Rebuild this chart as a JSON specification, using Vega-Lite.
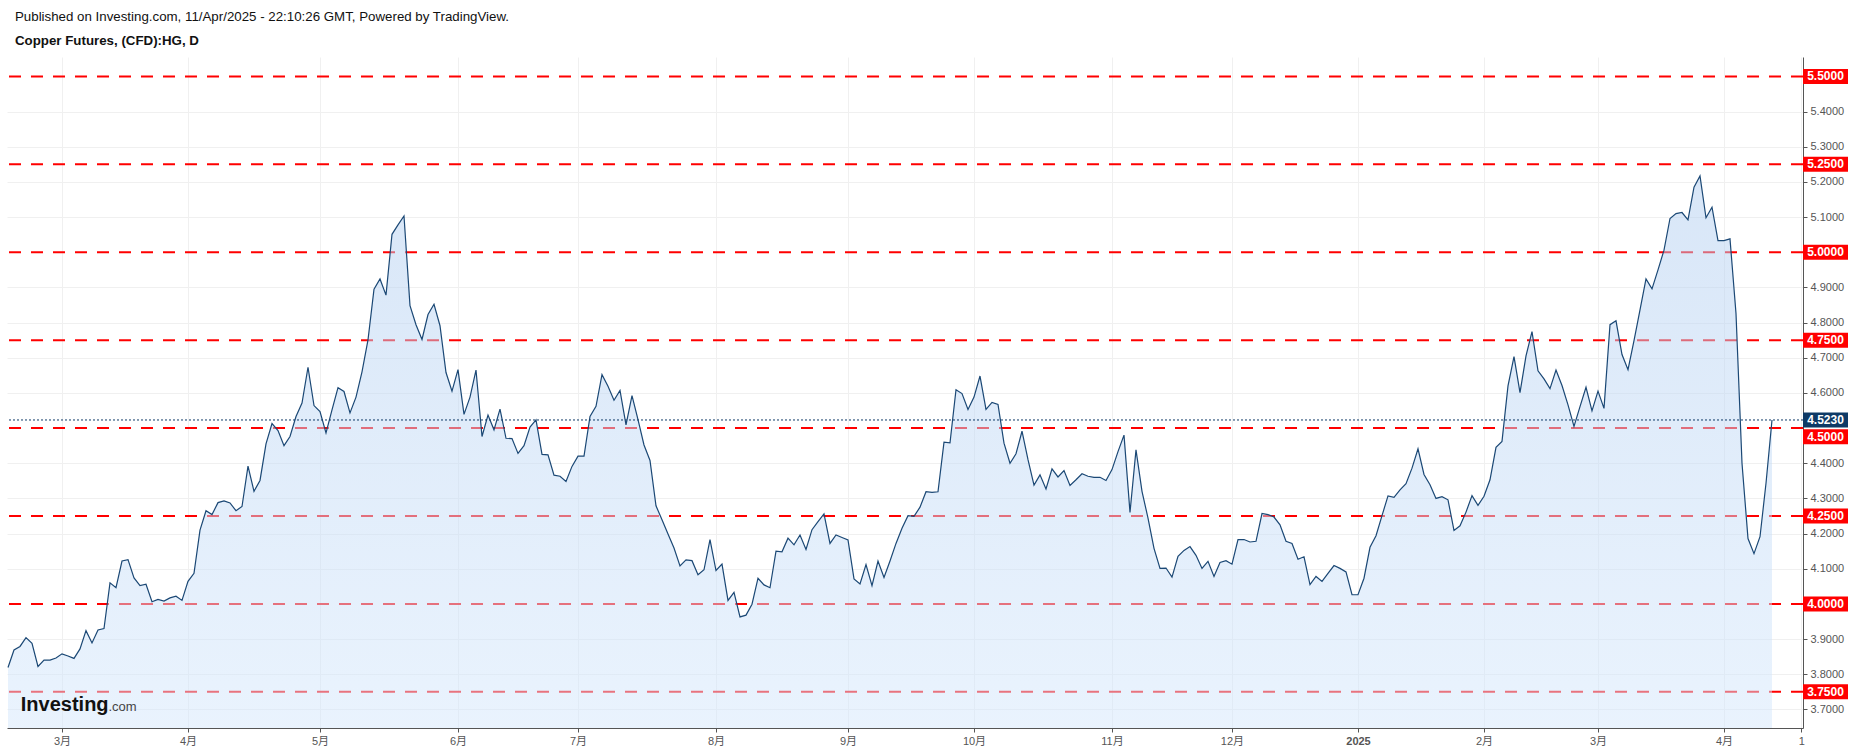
{
  "$schema": "https://vega.github.io/schema/vega-lite/v6.json",
  "width": 1796,
  "height": 671,
  "autosize": {"type": "none"},
  "padding": {"left": 7, "top": 57, "right": 52, "bottom": 25},
  "background": "white",
  "config": {
    "view": {"stroke": null},
    "font": "Liberation Sans, Arial, Noto Sans CJK SC, sans-serif"
  },
  "title": {
    "text": "Published on Investing.com, 11/Apr/2025 - 22:10:26 GMT, Powered by TradingView.",
    "subtitle": "Copper Futures, (CFD):HG, D",
    "anchor": "start",
    "frame": "group",
    "dx": 8,
    "offset": 10,
    "font": "Liberation Sans, Arial, sans-serif",
    "fontSize": 13.3,
    "fontWeight": "normal",
    "color": "#111111",
    "subtitleFont": "Liberation Sans, Arial, sans-serif",
    "subtitleFontSize": 13.3,
    "subtitleFontWeight": "bold",
    "subtitleColor": "#111111",
    "subtitlePadding": 10
  },
  "datasets": {
    "price": [
      {"i":0,"v":3.819},{"i":1,"v":3.869},{"i":2,"v":3.879},{"i":3,"v":3.904},{"i":4,"v":3.888},{"i":5,"v":3.822},{"i":6,"v":3.840},{"i":7,"v":3.840},{"i":8,"v":3.846},{"i":9,"v":3.858},
      {"i":10,"v":3.852},{"i":11,"v":3.845},{"i":12,"v":3.872},{"i":13,"v":3.924},{"i":14,"v":3.889},{"i":15,"v":3.926},{"i":16,"v":3.930},{"i":17,"v":4.060},{"i":18,"v":4.046},{"i":19,"v":4.122},
      {"i":20,"v":4.126},{"i":21,"v":4.074},{"i":22,"v":4.052},{"i":23,"v":4.056},{"i":24,"v":4.006},{"i":25,"v":4.013},{"i":26,"v":4.008},{"i":27,"v":4.017},{"i":28,"v":4.022},{"i":29,"v":4.010},
      {"i":30,"v":4.064},{"i":31,"v":4.087},{"i":32,"v":4.210},{"i":33,"v":4.265},{"i":34,"v":4.254},{"i":35,"v":4.288},{"i":36,"v":4.293},{"i":37,"v":4.287},{"i":38,"v":4.265},{"i":39,"v":4.277},
      {"i":40,"v":4.392},{"i":41,"v":4.320},{"i":42,"v":4.351},{"i":43,"v":4.455},{"i":44,"v":4.513},{"i":45,"v":4.493},{"i":46,"v":4.450},{"i":47,"v":4.476},{"i":48,"v":4.533},{"i":49,"v":4.571},
      {"i":50,"v":4.673},{"i":51,"v":4.564},{"i":52,"v":4.547},{"i":53,"v":4.486},{"i":54,"v":4.552},{"i":55,"v":4.615},{"i":56,"v":4.604},{"i":57,"v":4.543},{"i":58,"v":4.588},{"i":59,"v":4.660},
      {"i":60,"v":4.751},{"i":61,"v":4.895},{"i":62,"v":4.924},{"i":63,"v":4.878},{"i":64,"v":5.051},{"i":65,"v":5.078},{"i":66,"v":5.103},{"i":67,"v":4.848},{"i":68,"v":4.794},{"i":69,"v":4.752},
      {"i":70,"v":4.823},{"i":71,"v":4.852},{"i":72,"v":4.791},{"i":73,"v":4.658},{"i":74,"v":4.605},{"i":75,"v":4.666},{"i":76,"v":4.539},{"i":77,"v":4.588},{"i":78,"v":4.665},{"i":79,"v":4.476},
      {"i":80,"v":4.537},{"i":81,"v":4.495},{"i":82,"v":4.554},{"i":83,"v":4.471},{"i":84,"v":4.470},{"i":85,"v":4.428},{"i":86,"v":4.450},{"i":87,"v":4.503},{"i":88,"v":4.523},{"i":89,"v":4.425},
      {"i":90,"v":4.424},{"i":91,"v":4.366},{"i":92,"v":4.363},{"i":93,"v":4.348},{"i":94,"v":4.391},{"i":95,"v":4.420},{"i":96,"v":4.420},{"i":97,"v":4.533},{"i":98,"v":4.562},{"i":99,"v":4.652},
      {"i":100,"v":4.619},{"i":101,"v":4.579},{"i":102,"v":4.607},{"i":103,"v":4.509},{"i":104,"v":4.592},{"i":105,"v":4.524},{"i":106,"v":4.452},{"i":107,"v":4.408},{"i":108,"v":4.279},{"i":109,"v":4.239},
      {"i":110,"v":4.199},{"i":111,"v":4.159},{"i":112,"v":4.108},{"i":113,"v":4.125},{"i":114,"v":4.123},{"i":115,"v":4.083},{"i":116,"v":4.097},{"i":117,"v":4.183},{"i":118,"v":4.095},{"i":119,"v":4.113},
      {"i":120,"v":4.010},{"i":121,"v":4.033},{"i":122,"v":3.963},{"i":123,"v":3.968},{"i":124,"v":3.999},{"i":125,"v":4.073},{"i":126,"v":4.054},{"i":127,"v":4.046},{"i":128,"v":4.150},{"i":129,"v":4.148},
      {"i":130,"v":4.187},{"i":131,"v":4.168},{"i":132,"v":4.196},{"i":133,"v":4.155},{"i":134,"v":4.211},{"i":135,"v":4.234},{"i":136,"v":4.256},{"i":137,"v":4.172},{"i":138,"v":4.196},{"i":139,"v":4.189},
      {"i":140,"v":4.182},{"i":141,"v":4.071},{"i":142,"v":4.057},{"i":143,"v":4.112},{"i":144,"v":4.052},{"i":145,"v":4.122},{"i":146,"v":4.075},{"i":147,"v":4.122},{"i":148,"v":4.172},{"i":149,"v":4.215},
      {"i":150,"v":4.251},{"i":151,"v":4.249},{"i":152,"v":4.275},{"i":153,"v":4.319},{"i":154,"v":4.317},{"i":155,"v":4.319},{"i":156,"v":4.460},{"i":157,"v":4.458},{"i":158,"v":4.609},{"i":159,"v":4.598},
      {"i":160,"v":4.553},{"i":161,"v":4.588},{"i":162,"v":4.648},{"i":163,"v":4.553},{"i":164,"v":4.573},{"i":165,"v":4.567},{"i":166,"v":4.457},{"i":167,"v":4.400},{"i":168,"v":4.427},{"i":169,"v":4.491},
      {"i":170,"v":4.410},{"i":171,"v":4.338},{"i":172,"v":4.367},{"i":173,"v":4.327},{"i":174,"v":4.384},{"i":175,"v":4.361},{"i":176,"v":4.379},{"i":177,"v":4.337},{"i":178,"v":4.353},{"i":179,"v":4.370},
      {"i":180,"v":4.363},{"i":181,"v":4.360},{"i":182,"v":4.360},{"i":183,"v":4.351},{"i":184,"v":4.382},{"i":185,"v":4.433},{"i":186,"v":4.480},{"i":187,"v":4.260},{"i":188,"v":4.438},{"i":189,"v":4.320},
      {"i":190,"v":4.244},{"i":191,"v":4.158},{"i":192,"v":4.101},{"i":193,"v":4.102},{"i":194,"v":4.076},{"i":195,"v":4.135},{"i":196,"v":4.152},{"i":197,"v":4.163},{"i":198,"v":4.138},{"i":199,"v":4.101},
      {"i":200,"v":4.121},{"i":201,"v":4.078},{"i":202,"v":4.118},{"i":203,"v":4.123},{"i":204,"v":4.113},{"i":205,"v":4.183},{"i":206,"v":4.183},{"i":207,"v":4.176},{"i":208,"v":4.178},{"i":209,"v":4.257},
      {"i":210,"v":4.254},{"i":211,"v":4.247},{"i":212,"v":4.225},{"i":213,"v":4.178},{"i":214,"v":4.172},{"i":215,"v":4.127},{"i":216,"v":4.134},{"i":217,"v":4.055},{"i":218,"v":4.078},{"i":219,"v":4.064},
      {"i":220,"v":4.087},{"i":221,"v":4.109},{"i":222,"v":4.101},{"i":223,"v":4.091},{"i":224,"v":4.026},{"i":225,"v":4.026},{"i":226,"v":4.073},{"i":227,"v":4.161},{"i":228,"v":4.194},{"i":229,"v":4.251},
      {"i":230,"v":4.307},{"i":231,"v":4.303},{"i":232,"v":4.324},{"i":233,"v":4.342},{"i":234,"v":4.386},{"i":235,"v":4.441},{"i":236,"v":4.368},{"i":237,"v":4.339},{"i":238,"v":4.300},{"i":239,"v":4.305},
      {"i":240,"v":4.296},{"i":241,"v":4.209},{"i":242,"v":4.222},{"i":243,"v":4.261},{"i":244,"v":4.308},{"i":245,"v":4.280},{"i":246,"v":4.306},{"i":247,"v":4.353},{"i":248,"v":4.445},{"i":249,"v":4.462},
      {"i":250,"v":4.620},{"i":251,"v":4.703},{"i":252,"v":4.601},{"i":253,"v":4.705},{"i":254,"v":4.774},{"i":255,"v":4.663},{"i":256,"v":4.640},{"i":257,"v":4.612},{"i":258,"v":4.665},{"i":259,"v":4.621},
      {"i":260,"v":4.566},{"i":261,"v":4.505},{"i":262,"v":4.561},{"i":263,"v":4.616},{"i":264,"v":4.549},{"i":265,"v":4.605},{"i":266,"v":4.556},{"i":267,"v":4.794},{"i":268,"v":4.805},{"i":269,"v":4.709},
      {"i":270,"v":4.666},{"i":271,"v":4.749},{"i":272,"v":4.836},{"i":273,"v":4.924},{"i":274,"v":4.896},{"i":275,"v":4.950},{"i":276,"v":5.006},{"i":277,"v":5.096},{"i":278,"v":5.110},{"i":279,"v":5.113},
      {"i":280,"v":5.092},{"i":281,"v":5.185},{"i":282,"v":5.217},{"i":283,"v":5.098},{"i":284,"v":5.128},{"i":285,"v":5.033},{"i":286,"v":5.033},{"i":287,"v":5.038},{"i":288,"v":4.826},{"i":289,"v":4.400},
      {"i":290,"v":4.186},{"i":291,"v":4.143},{"i":292,"v":4.191},{"i":293,"v":4.343},{"i":294,"v":4.523}
    ],
    "levels": [
      {"level":5.5,"label":"5.5000"},
      {"level":5.25,"label":"5.2500"},
      {"level":5.0,"label":"5.0000"},
      {"level":4.75,"label":"4.7500"},
      {"level":4.5,"label":"4.5000"},
      {"level":4.25,"label":"4.2500"},
      {"level":4.0,"label":"4.0000"},
      {"level":3.75,"label":"3.7500"}
    ],
    "brand": [
      {"name":"Investing","suffix":".com"}
    ]
  },
  "layer": [
    {
      "data": {"name": "price"},
      "mark": {"type": "point", "opacity": 0},
      "encoding": {
        "x": {
          "field": "i", "type": "quantitative", "title": null,
          "scale": {"domain": [-0.1667, 299.1667], "nice": false, "zero": false},
          "axis": {
            "orient": "bottom",
            "values": [9, 30, 52, 75, 95, 118, 140, 161, 184, 204, 225, 246, 265, 286, 298.9],
            "labelExpr": "datum.value==9?'3月':datum.value==30?'4月':datum.value==52?'5月':datum.value==75?'6月':datum.value==95?'7月':datum.value==118?'8月':datum.value==140?'9月':datum.value==161?'10月':datum.value==184?'11月':datum.value==204?'12月':datum.value==225?'2025':datum.value==246?'2月':datum.value==265?'3月':datum.value==286?'4月':'1'",
            "labelFontWeight": {"condition": {"test": "datum.value==225", "value": "bold"}, "value": "normal"},
            "grid": true, "gridColor": "#f0f0f0", "gridWidth": 1,
            "domainColor": "#555555", "domainWidth": 1,
            "tickColor": "#555555", "tickSize": 4,
            "labelColor": "#555555", "labelFontSize": 11, "labelPadding": 3,
            "labelFont": "Liberation Sans, Noto Sans CJK SC, sans-serif",
            "labelFlush": false, "labelOverlap": false, "labelBound": false
          }
        },
        "y": {
          "field": "v", "type": "quantitative", "title": null,
          "scale": {"domain": [3.6471, 5.5552], "nice": false, "zero": false},
          "axis": {
            "orient": "right",
            "values": [3.7, 3.8, 3.9, 4.1, 4.2, 4.3, 4.4, 4.6, 4.7, 4.8, 4.9, 5.1, 5.2, 5.3, 5.4],
            "format": ".4f",
            "grid": true, "gridColor": "#f0f0f0", "gridWidth": 1,
            "domainColor": "#555555", "domainWidth": 1,
            "tickColor": "#555555", "tickSize": 4,
            "labelColor": "#555555", "labelFontSize": 11, "labelPadding": 3,
            "labelFont": "Liberation Sans, sans-serif",
            "labelFlush": false, "labelOverlap": false, "labelBound": false
          }
        }
      }
    },
    {
      "data": {"name": "levels"},
      "mark": {"type": "rule", "color": "#ff0000", "strokeWidth": 2, "strokeDash": [12, 10]},
      "encoding": {
        "y": {"field": "level", "type": "quantitative", "title": null,
              "scale": {"domain": [3.6471, 5.5552], "nice": false, "zero": false}}
      }
    },
    {
      "data": {"name": "price"},
      "mark": {
        "type": "area",
        "fill": {
          "gradient": "linear", "x1": 0, "y1": 0, "x2": 0, "y2": 1,
          "stops": [
            {"offset": 0, "color": "rgba(178,206,240,0.5)"},
            {"offset": 1, "color": "rgba(212,231,252,0.5)"}
          ]
        }
      },
      "encoding": {
        "x": {"field": "i", "type": "quantitative", "title": null,
              "scale": {"domain": [-0.1667, 299.1667], "nice": false, "zero": false}},
        "y": {"field": "v", "type": "quantitative", "title": null,
              "scale": {"domain": [3.6471, 5.5552], "nice": false, "zero": false}},
        "y2": {"datum": 3.6471}
      }
    },
    {
      "data": {"name": "price"},
      "mark": {"type": "line", "color": "#1b4875", "strokeWidth": 1.2},
      "encoding": {
        "x": {"field": "i", "type": "quantitative", "title": null,
              "scale": {"domain": [-0.1667, 299.1667], "nice": false, "zero": false}},
        "y": {"field": "v", "type": "quantitative", "title": null,
              "scale": {"domain": [3.6471, 5.5552], "nice": false, "zero": false}}
      }
    },
    {
      "data": {"name": "price"},
      "transform": [{"filter": "datum.i == 294"}],
      "mark": {"type": "rule", "color": "#0e3a66", "strokeWidth": 1, "strokeDash": [2, 2]},
      "encoding": {
        "y": {"field": "v", "type": "quantitative", "title": null,
              "scale": {"domain": [3.6471, 5.5552], "nice": false, "zero": false}}
      }
    },
    {
      "data": {"name": "levels"},
      "transform": [{"filter": "datum.level != 4.5"}],
      "mark": {"type": "point", "shape": "M-1,-0.3333H1V0.3333H-1Z", "size": 2025, "filled": true, "opacity": 1, "strokeWidth": 0, "color": "#ff0000"},
      "encoding": {
        "x": {"datum": 302.917, "type": "quantitative", "title": null,
              "scale": {"domain": [-0.1667, 299.1667], "nice": false, "zero": false}},
        "y": {"field": "level", "type": "quantitative", "title": null,
              "scale": {"domain": [3.6471, 5.5552], "nice": false, "zero": false}}
      }
    },
    {
      "data": {"name": "levels"},
      "transform": [{"filter": "datum.level != 4.5"}],
      "mark": {"type": "text", "color": "white", "fontWeight": "bold", "fontSize": 12, "align": "center", "baseline": "middle", "font": "Liberation Sans, sans-serif"},
      "encoding": {
        "x": {"datum": 302.917, "type": "quantitative", "title": null,
              "scale": {"domain": [-0.1667, 299.1667], "nice": false, "zero": false}},
        "y": {"field": "level", "type": "quantitative", "title": null,
              "scale": {"domain": [3.6471, 5.5552], "nice": false, "zero": false}},
        "text": {"field": "label"}
      }
    },
    {
      "data": {"name": "levels"},
      "transform": [{"filter": "datum.level == 4.5"}],
      "mark": {"type": "point", "shape": "M-1,-0.3333H1V0.3333H-1Z", "size": 2025, "filled": true, "opacity": 1, "strokeWidth": 0, "color": "#ff0000", "yOffset": 8.7},
      "encoding": {
        "x": {"datum": 302.917, "type": "quantitative", "title": null,
              "scale": {"domain": [-0.1667, 299.1667], "nice": false, "zero": false}},
        "y": {"field": "level", "type": "quantitative", "title": null,
              "scale": {"domain": [3.6471, 5.5552], "nice": false, "zero": false}}
      }
    },
    {
      "data": {"name": "levels"},
      "transform": [{"filter": "datum.level == 4.5"}],
      "mark": {"type": "text", "color": "white", "fontWeight": "bold", "fontSize": 12, "align": "center", "baseline": "middle", "font": "Liberation Sans, sans-serif", "yOffset": 8.7},
      "encoding": {
        "x": {"datum": 302.917, "type": "quantitative", "title": null,
              "scale": {"domain": [-0.1667, 299.1667], "nice": false, "zero": false}},
        "y": {"field": "level", "type": "quantitative", "title": null,
              "scale": {"domain": [3.6471, 5.5552], "nice": false, "zero": false}},
        "text": {"field": "label"}
      }
    },
    {
      "data": {"name": "price"},
      "transform": [{"filter": "datum.i == 294"}],
      "mark": {"type": "point", "shape": "M-1,-0.3333H1V0.3333H-1Z", "size": 2025, "filled": true, "opacity": 1, "strokeWidth": 0, "color": "#0e3a66"},
      "encoding": {
        "x": {"datum": 302.917, "type": "quantitative", "title": null,
              "scale": {"domain": [-0.1667, 299.1667], "nice": false, "zero": false}},
        "y": {"field": "v", "type": "quantitative", "title": null,
              "scale": {"domain": [3.6471, 5.5552], "nice": false, "zero": false}}
      }
    },
    {
      "data": {"name": "price"},
      "transform": [{"filter": "datum.i == 294"}],
      "mark": {"type": "text", "color": "white", "fontWeight": "bold", "fontSize": 12, "align": "center", "baseline": "middle", "font": "Liberation Sans, sans-serif"},
      "encoding": {
        "x": {"datum": 302.917, "type": "quantitative", "title": null,
              "scale": {"domain": [-0.1667, 299.1667], "nice": false, "zero": false}},
        "y": {"field": "v", "type": "quantitative", "title": null,
              "scale": {"domain": [3.6471, 5.5552], "nice": false, "zero": false}},
        "text": {"field": "v", "format": ".4f"}
      }
    },
    {
      "data": {"name": "brand"},
      "mark": {"type": "text", "color": "#111111", "fontWeight": "bold", "fontSize": 20, "align": "left", "baseline": "alphabetic", "font": "Liberation Sans, Arial, sans-serif", "letterSpacing": -0.2},
      "encoding": {
        "x": {"datum": 2.13, "type": "quantitative", "title": null,
              "scale": {"domain": [-0.1667, 299.1667], "nice": false, "zero": false}},
        "y": {"datum": 3.6955, "type": "quantitative", "title": null,
              "scale": {"domain": [3.6471, 5.5552], "nice": false, "zero": false}},
        "text": {"field": "name"}
      }
    },
    {
      "data": {"name": "brand"},
      "mark": {"type": "text", "color": "#444444", "fontWeight": "normal", "fontSize": 13, "align": "left", "baseline": "alphabetic", "font": "Liberation Sans, Arial, sans-serif", "letterSpacing": -0.3},
      "encoding": {
        "x": {"datum": 16.75, "type": "quantitative", "title": null,
              "scale": {"domain": [-0.1667, 299.1667], "nice": false, "zero": false}},
        "y": {"datum": 3.6955, "type": "quantitative", "title": null,
              "scale": {"domain": [3.6471, 5.5552], "nice": false, "zero": false}},
        "text": {"field": "suffix"}
      }
    }
  ]
}
